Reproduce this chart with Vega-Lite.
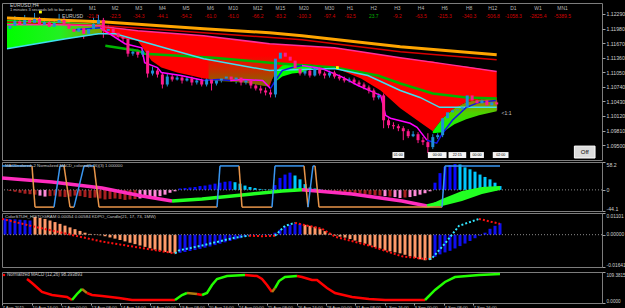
{
"$schema":"https://vega.github.io/schema/vega-lite/v6.json",
"background":"#000000",
"padding":{"left":1,"top":2,"right":0,"bottom":0},
"spacing":0,
"config":{
 "view":{"stroke":"#7d7d7d","strokeWidth":1},
 "axis":{"labelFont":"Liberation Sans","labelColor":"#d0d0d0","tickColor":"#a0a0a0","labelOverlap":false,"grid":false,"domain":false,"title":null},
 "text":{"font":"Liberation Sans"}
},
"resolve":{"scale":{"x":"independent","y":"independent"}},
"datasets":{
 "candles":[
{"x":3,"o":1.11973,"h":1.12142,"l":1.11889,"c":1.12037},
{"x":8,"o":1.12037,"h":1.12248,"l":1.11994,"c":1.12142},
{"x":13,"o":1.12142,"h":1.12185,"l":1.11994,"c":1.12058},
{"x":18,"o":1.12058,"h":1.12269,"l":1.12015,"c":1.12163},
{"x":23,"o":1.12163,"h":1.12206,"l":1.12037,"c":1.12100},
{"x":28,"o":1.12100,"h":1.12311,"l":1.12058,"c":1.12185},
{"x":33,"o":1.12185,"h":1.12227,"l":1.11973,"c":1.12058},
{"x":38,"o":1.12058,"h":1.12206,"l":1.12015,"c":1.12121},
{"x":43,"o":1.12121,"h":1.12163,"l":1.11952,"c":1.12015},
{"x":48,"o":1.12015,"h":1.12185,"l":1.11973,"c":1.12100},
{"x":53,"o":1.12100,"h":1.12290,"l":1.12058,"c":1.12163},
{"x":58,"o":1.12163,"h":1.12206,"l":1.12015,"c":1.12079},
{"x":63,"o":1.12079,"h":1.12121,"l":1.11867,"c":1.11973},
{"x":68,"o":1.11973,"h":1.12037,"l":1.11825,"c":1.11910},
{"x":73,"o":1.11910,"h":1.12058,"l":1.11867,"c":1.11994},
{"x":78,"o":1.11994,"h":1.12037,"l":1.11762,"c":1.11867},
{"x":83,"o":1.11867,"h":1.12058,"l":1.11825,"c":1.11973},
{"x":88,"o":1.11973,"h":1.12206,"l":1.11931,"c":1.12079},
{"x":93,"o":1.12079,"h":1.12269,"l":1.12037,"c":1.12163},
{"x":98,"o":1.12163,"h":1.12206,"l":1.11783,"c":1.11931},
{"x":103,"o":1.11931,"h":1.12058,"l":1.11889,"c":1.11973},
{"x":108,"o":1.11973,"h":1.12015,"l":1.11846,"c":1.11889},
{"x":113,"o":1.11889,"h":1.11931,"l":1.11762,"c":1.11804},
{"x":118,"o":1.11804,"h":1.11846,"l":1.11698,"c":1.11762},
{"x":123,"o":1.11762,"h":1.11804,"l":1.11381,"c":1.11445},
{"x":128,"o":1.11445,"h":1.11550,"l":1.11402,"c":1.11487},
{"x":133,"o":1.11487,"h":1.11529,"l":1.11360,"c":1.11423},
{"x":138,"o":1.11423,"h":1.11571,"l":1.11381,"c":1.11508},
{"x":143,"o":1.11508,"h":1.11550,"l":1.10937,"c":1.11022},
{"x":148,"o":1.11022,"h":1.11170,"l":1.10980,"c":1.11085},
{"x":153,"o":1.11085,"h":1.11128,"l":1.10937,"c":1.11001},
{"x":158,"o":1.11001,"h":1.11043,"l":1.10705,"c":1.10789},
{"x":163,"o":1.10789,"h":1.11022,"l":1.10747,"c":1.10958},
{"x":168,"o":1.10958,"h":1.11001,"l":1.10853,"c":1.10895},
{"x":173,"o":1.10895,"h":1.10980,"l":1.10874,"c":1.10937},
{"x":178,"o":1.10937,"h":1.10980,"l":1.10810,"c":1.10874},
{"x":183,"o":1.10874,"h":1.10958,"l":1.10853,"c":1.10916},
{"x":188,"o":1.10916,"h":1.10958,"l":1.10768,"c":1.10832},
{"x":193,"o":1.10832,"h":1.10916,"l":1.10789,"c":1.10874},
{"x":198,"o":1.10874,"h":1.10916,"l":1.10747,"c":1.10789},
{"x":203,"o":1.10789,"h":1.11043,"l":1.10747,"c":1.10895},
{"x":208,"o":1.10895,"h":1.10937,"l":1.10662,"c":1.10810},
{"x":213,"o":1.10810,"h":1.10916,"l":1.10768,"c":1.10874},
{"x":218,"o":1.10874,"h":1.10958,"l":1.10832,"c":1.10916},
{"x":223,"o":1.10916,"h":1.11022,"l":1.10874,"c":1.10958},
{"x":228,"o":1.10958,"h":1.11001,"l":1.10853,"c":1.10895},
{"x":233,"o":1.10895,"h":1.11043,"l":1.10810,"c":1.10937},
{"x":238,"o":1.10937,"h":1.10980,"l":1.10768,"c":1.10832},
{"x":243,"o":1.10832,"h":1.10958,"l":1.10789,"c":1.10874},
{"x":248,"o":1.10874,"h":1.10916,"l":1.10705,"c":1.10768},
{"x":253,"o":1.10768,"h":1.10832,"l":1.10662,"c":1.10705},
{"x":258,"o":1.10705,"h":1.10768,"l":1.10599,"c":1.10662},
{"x":263,"o":1.10662,"h":1.10726,"l":1.10557,"c":1.10620},
{"x":268,"o":1.10620,"h":1.10684,"l":1.10514,"c":1.10578},
{"x":273,"o":1.10578,"h":1.11402,"l":1.10514,"c":1.11339},
{"x":278,"o":1.11339,"h":1.11614,"l":1.11297,"c":1.11466},
{"x":283,"o":1.11466,"h":1.11508,"l":1.11254,"c":1.11381},
{"x":288,"o":1.11381,"h":1.11550,"l":1.11212,"c":1.11297},
{"x":293,"o":1.11297,"h":1.11339,"l":1.11085,"c":1.11128},
{"x":298,"o":1.11128,"h":1.11170,"l":1.10980,"c":1.11022},
{"x":303,"o":1.11022,"h":1.11128,"l":1.10980,"c":1.11085},
{"x":308,"o":1.11085,"h":1.11128,"l":1.10937,"c":1.10980},
{"x":313,"o":1.10980,"h":1.11212,"l":1.10958,"c":1.11128},
{"x":318,"o":1.11128,"h":1.11170,"l":1.10980,"c":1.11022},
{"x":323,"o":1.11022,"h":1.11064,"l":1.10916,"c":1.10980},
{"x":328,"o":1.10980,"h":1.11085,"l":1.10937,"c":1.11043},
{"x":333,"o":1.11043,"h":1.11085,"l":1.10916,"c":1.10958},
{"x":338,"o":1.10958,"h":1.11001,"l":1.10874,"c":1.10916},
{"x":343,"o":1.10916,"h":1.10958,"l":1.10832,"c":1.10874},
{"x":348,"o":1.10874,"h":1.10937,"l":1.10832,"c":1.10895},
{"x":353,"o":1.10895,"h":1.10937,"l":1.10789,"c":1.10832},
{"x":358,"o":1.10832,"h":1.10874,"l":1.10747,"c":1.10789},
{"x":363,"o":1.10789,"h":1.10832,"l":1.10684,"c":1.10726},
{"x":368,"o":1.10726,"h":1.10768,"l":1.10599,"c":1.10662},
{"x":373,"o":1.10662,"h":1.10705,"l":1.10451,"c":1.10514},
{"x":378,"o":1.10514,"h":1.10599,"l":1.10472,"c":1.10557},
{"x":383,"o":1.10557,"h":1.10599,"l":1.09859,"c":1.10028},
{"x":388,"o":1.10028,"h":1.10071,"l":1.09859,"c":1.09923},
{"x":393,"o":1.09923,"h":1.09986,"l":1.09838,"c":1.09901},
{"x":398,"o":1.09901,"h":1.09944,"l":1.09796,"c":1.09859},
{"x":403,"o":1.09859,"h":1.09901,"l":1.09605,"c":1.09796},
{"x":408,"o":1.09796,"h":1.09838,"l":1.09648,"c":1.09690},
{"x":413,"o":1.09690,"h":1.09796,"l":1.09669,"c":1.09732},
{"x":418,"o":1.09732,"h":1.09775,"l":1.09542,"c":1.09605},
{"x":423,"o":1.09605,"h":1.09669,"l":1.09500,"c":1.09563},
{"x":428,"o":1.09563,"h":1.09753,"l":1.09331,"c":1.09457},
{"x":433,"o":1.09457,"h":1.09732,"l":1.09415,"c":1.09669},
{"x":438,"o":1.09669,"h":1.09753,"l":1.09627,"c":1.09711},
{"x":443,"o":1.09711,"h":1.10113,"l":1.09669,"c":1.10071},
{"x":448,"o":1.10071,"h":1.10240,"l":1.10028,"c":1.10197},
{"x":453,"o":1.10197,"h":1.10303,"l":1.10155,"c":1.10240},
{"x":458,"o":1.10240,"h":1.10324,"l":1.10197,"c":1.10261},
{"x":463,"o":1.10261,"h":1.10366,"l":1.10219,"c":1.10303},
{"x":468,"o":1.10303,"h":1.10874,"l":1.10261,"c":1.10557},
{"x":473,"o":1.10557,"h":1.10599,"l":1.10388,"c":1.10451},
{"x":478,"o":1.10451,"h":1.10493,"l":1.10324,"c":1.10388},
{"x":483,"o":1.10388,"h":1.10514,"l":1.10345,"c":1.10451},
{"x":488,"o":1.10451,"h":1.10493,"l":1.10282,"c":1.10345},
{"x":493,"o":1.10345,"h":1.10578,"l":1.10303,"c":1.10409},
{"x":498,"o":1.10409,"h":1.10451,"l":1.10240,"c":1.10366}
 ],
 "greenL":[{"x":0,"y":1.12163,"y2":1.11550},{"x":30,"y":1.12142,"y2":1.11656},{"x":60,"y":1.12121,"y2":1.11762},{"x":97,"y":1.12079,"y2":1.11867}],
 "red":[
{"x":95,"y":1.12037,"y2":1.12015},{"x":100,"y":1.12015,"y2":1.11867},{"x":120,"y":1.11973,"y2":1.11762},{"x":133,"y":1.11931,"y2":1.11719},{"x":140,"y":1.11920,"y2":1.11508},{"x":147,"y":1.11910,"y2":1.11297},{"x":157,"y":1.11889,"y2":1.11149},{"x":173,"y":1.11867,"y2":1.11043},{"x":187,"y":1.11846,"y2":1.10980},{"x":200,"y":1.11825,"y2":1.10916},{"x":230,"y":1.11741,"y2":1.10874},{"x":250,"y":1.11698,"y2":1.10810},{"x":267,"y":1.11656,"y2":1.10747},{"x":272,"y":1.11645,"y2":1.11043},{"x":300,"y":1.11614,"y2":1.11212},{"x":310,"y":1.11593,"y2":1.11212},{"x":333,"y":1.11571,"y2":1.11149},{"x":360,"y":1.11487,"y2":1.10916},{"x":380,"y":1.11423,"y2":1.10662},{"x":400,"y":1.11360,"y2":1.10282},{"x":420,"y":1.11307,"y2":1.09986},{"x":433,"y":1.11276,"y2":1.09796},{"x":443,"y":1.11233,"y2":1.10071},{"x":455,"y":1.11201,"y2":1.10282},{"x":467,"y":1.11170,"y2":1.10409},{"x":480,"y":1.11128,"y2":1.10472},{"x":498,"y":1.11064,"y2":1.10493}
 ],
 "olive":[{"x":205,"y":1.11297,"y2":1.10874},{"x":240,"y":1.11360,"y2":1.10832},{"x":265,"y":1.11402,"y2":1.10747},{"x":272,"y":1.11381,"y2":1.10980}],
 "greenM":[{"x":272,"y":1.11043,"y2":1.10832},{"x":280,"y":1.11191,"y2":1.10958},{"x":290,"y":1.11233,"y2":1.11022},{"x":300,"y":1.11212,"y2":1.11043},{"x":310,"y":1.11212,"y2":1.11128}],
 "greenR":[{"x":433,"y":1.09796,"y2":1.09753},{"x":443,"y":1.10071,"y2":1.09775},{"x":455,"y":1.10282,"y2":1.09944},{"x":467,"y":1.10409,"y2":1.10049},{"x":480,"y":1.10472,"y2":1.10134},{"x":498,"y":1.10493,"y2":1.10219}],
 "orange":[{"x":0,"y":1.12206},{"x":100,"y":1.12121},{"x":200,"y":1.11973},{"x":267,"y":1.11889},{"x":300,"y":1.11825},{"x":400,"y":1.11593},{"x":498,"y":1.11423}],
 "dred":[{"x":0,"y":1.12121},{"x":100,"y":1.12037},{"x":200,"y":1.11889},{"x":300,"y":1.11741},{"x":400,"y":1.11487},{"x":498,"y":1.11318}],
 "upper":[{"x":0,"y":1.12058},{"x":50,"y":1.12058},{"x":95,"y":1.12037},{"x":100,"y":1.12015},{"x":133,"y":1.11931},{"x":200,"y":1.11825},{"x":267,"y":1.11656},{"x":333,"y":1.11571},{"x":400,"y":1.11360},{"x":450,"y":1.11212},{"x":498,"y":1.11064}],
 "gline":[{"x":100,"y":1.11614},{"x":133,"y":1.11508},{"x":140,"y":1.11445},{"x":210,"y":1.11360},{"x":267,"y":1.11254},{"x":333,"y":1.11149},{"x":377,"y":1.10980},{"x":400,"y":1.10810},{"x":433,"y":1.10599},{"x":467,"y":1.10514},{"x":498,"y":1.10493}],
 "cyan":[{"x":0,"y":1.11550},{"x":30,"y":1.11656},{"x":60,"y":1.11762},{"x":93,"y":1.11867},{"x":110,"y":1.11867},{"x":160,"y":1.11571},{"x":200,"y":1.11339},{"x":267,"y":1.11085},{"x":333,"y":1.11128},{"x":367,"y":1.10980},{"x":400,"y":1.10662},{"x":420,"y":1.10514},{"x":440,"y":1.10303},{"x":467,"y":1.10303},{"x":498,"y":1.10303}],
 "ma":[
{"x":70,"y":1.11952,"g":"m0","st":"up"},{"x":95,"y":1.11994,"g":"m0","st":"up"},
{"x":95,"y":1.11994,"g":"m1","st":"dn"},{"x":120,"y":1.11656,"g":"m1","st":"dn"},{"x":137,"y":1.11571,"g":"m1","st":"dn"},{"x":140,"y":1.11254,"g":"m1","st":"dn"},{"x":153,"y":1.11149,"g":"m1","st":"dn"},{"x":157,"y":1.11043,"g":"m1","st":"dn"},{"x":177,"y":1.10980,"g":"m1","st":"dn"},{"x":200,"y":1.10874,"g":"m1","st":"dn"},
{"x":200,"y":1.10874,"g":"m2","st":"up"},{"x":215,"y":1.10895,"g":"m2","st":"up"},{"x":227,"y":1.10874,"g":"m2","st":"up"},
{"x":227,"y":1.10874,"g":"m3","st":"dn"},{"x":240,"y":1.10895,"g":"m3","st":"dn"},{"x":260,"y":1.10874,"g":"m3","st":"dn"},{"x":268,"y":1.10705,"g":"m3","st":"dn"},
{"x":268,"y":1.10705,"g":"m4","st":"up"},{"x":273,"y":1.10874,"g":"m4","st":"up"},{"x":280,"y":1.11085,"g":"m4","st":"up"},{"x":290,"y":1.11149,"g":"m4","st":"up"},{"x":300,"y":1.11191,"g":"m4","st":"up"},
{"x":300,"y":1.11191,"g":"m5","st":"dn"},{"x":320,"y":1.11128,"g":"m5","st":"dn"},{"x":340,"y":1.10958,"g":"m5","st":"dn"},{"x":357,"y":1.10768,"g":"m5","st":"dn"},{"x":380,"y":1.10557,"g":"m5","st":"dn"},{"x":385,"y":1.10134,"g":"m5","st":"dn"},{"x":390,"y":1.10071,"g":"m5","st":"dn"},{"x":410,"y":1.09965,"g":"m5","st":"dn"},{"x":417,"y":1.09880,"g":"m5","st":"dn"},{"x":427,"y":1.09605,"g":"m5","st":"dn"},
{"x":427,"y":1.09605,"g":"m6","st":"up"},{"x":437,"y":1.09542,"g":"m6","st":"up"},{"x":443,"y":1.09753,"g":"m6","st":"up"},{"x":453,"y":1.10028,"g":"m6","st":"up"},{"x":467,"y":1.10303,"g":"m6","st":"up"},{"x":480,"y":1.10409,"g":"m6","st":"up"},{"x":497,"y":1.10451,"g":"m6","st":"up"}
 ],
 "dots":[{"x":34,"y":1.12332},{"x":336,"y":1.11149}],
 "tf":[{"x":87,"t":"M1","v":"-21.8"},{"x":110,"t":"M2","v":"-22.5"},{"x":134,"t":"M3","v":"-34.3"},{"x":158,"t":"M4","v":"-44.1"},{"x":182,"t":"M5","v":"-54.2"},{"x":207,"t":"M6","v":"-61.0"},{"x":230,"t":"M10","v":"-61.0"},{"x":255,"t":"M12","v":"-66.2"},{"x":278,"t":"M15","v":"-83.2"},{"x":302,"t":"M20","v":"-100.3"},{"x":328,"t":"M30","v":"-97.4"},{"x":349,"t":"H1","v":"-92.5"},{"x":373,"t":"H2","v":"23.7"},{"x":397,"t":"H3","v":"-9.2"},{"x":421,"t":"H4","v":"-63.5"},{"x":445,"t":"H6","v":"-215.3"},{"x":470,"t":"H8","v":"-340.3"},{"x":494,"t":"H12","v":"-506.8"},{"x":515,"t":"D1","v":"-1058.3"},{"x":540,"t":"W1","v":"-2825.4"},{"x":565,"t":"MN1","v":"-5389.5"}],
 "head":[{"x":3,"y":1.12470,"t":"EURUSD,H4"},{"x":56,"y":1.12248,"t":"EURUSD"},{"x":503,"y":1.10176,"t":"<1:1"}],
 "boxes":[{"x":392,"x2":404,"xm":398,"t":"01:00"},{"x":428,"x2":447,"xm":437.5,"t":"00:00"},{"x":449,"x2":467,"xm":458,"t":"22:15"},{"x":471,"x2":485,"xm":478,"t":"00:00"},{"x":494,"x2":510,"xm":502,"t":"02:00"}],
 "off":[{"x":577,"x2":598,"xm":587.5,"t":"Off"}],
 "wave":[
{"x":0,"x2":30,"y":50,"y2":50,"st":"up"},{"x":30,"x2":33,"y":50,"y2":-36,"st":"dn"},{"x":33,"x2":52,"y":-36,"y2":-36,"st":"dn"},{"x":52,"x2":58,"y":-36,"y2":50,"st":"up"},{"x":58,"x2":62,"y":50,"y2":50,"st":"up"},{"x":62,"x2":68,"y":50,"y2":-36,"st":"dn"},{"x":68,"x2":72,"y":-36,"y2":-36,"st":"dn"},{"x":72,"x2":82,"y":-36,"y2":50,"st":"up"},{"x":82,"x2":92,"y":50,"y2":50,"st":"up"},{"x":92,"x2":97,"y":50,"y2":-36,"st":"dn"},{"x":97,"x2":215,"y":-36,"y2":-36,"st":"dn"},{"x":215,"x2":218,"y":-36,"y2":50,"st":"up"},{"x":218,"x2":237,"y":50,"y2":50,"st":"up"},{"x":237,"x2":240,"y":50,"y2":-36,"st":"dn"},{"x":240,"x2":270,"y":-36,"y2":-36,"st":"dn"},{"x":270,"x2":273,"y":-36,"y2":50,"st":"up"},{"x":273,"x2":302,"y":50,"y2":50,"st":"up"},{"x":302,"x2":306,"y":50,"y2":-36,"st":"dn"},{"x":306,"x2":311,"y":-36,"y2":50,"st":"up"},{"x":311,"x2":313,"y":50,"y2":50,"st":"up"},{"x":313,"x2":317,"y":50,"y2":-36,"st":"dn"},{"x":317,"x2":440,"y":-36,"y2":-36,"st":"dn"},{"x":440,"x2":443,"y":-36,"y2":50,"st":"up"},{"x":443,"x2":498,"y":50,"y2":50,"st":"up"}
 ],
 "hist2":[
{"x":8,"v":-2,"st":"ng"},{"x":13,"v":-4,"st":"ng"},{"x":18,"v":-6,"st":"ng"},{"x":23,"v":-8,"st":"ng"},{"x":28,"v":-9,"st":"ng"},{"x":33,"v":-10,"st":"ng"},{"x":38,"v":-12,"st":"ns"},{"x":43,"v":-14,"st":"ns"},{"x":48,"v":-13,"st":"ng"},{"x":53,"v":-12,"st":"ng"},{"x":58,"v":-14,"st":"ng"},{"x":63,"v":-15,"st":"ng"},{"x":68,"v":-14,"st":"ng"},{"x":73,"v":-12,"st":"ng"},{"x":78,"v":-13,"st":"ng"},{"x":83,"v":-15,"st":"ng"},{"x":88,"v":-17,"st":"ng"},{"x":93,"v":-16,"st":"ng"},{"x":98,"v":-18,"st":"ng"},{"x":103,"v":-20,"st":"ng"},{"x":108,"v":-19,"st":"ng"},{"x":113,"v":-18,"st":"ng"},{"x":118,"v":-19,"st":"ng"},{"x":123,"v":-21,"st":"ng"},{"x":128,"v":-20,"st":"ng"},{"x":133,"v":-19,"st":"ng"},{"x":138,"v":-18,"st":"ns"},{"x":143,"v":-17,"st":"ns"},{"x":148,"v":-16,"st":"ns"},{"x":153,"v":-15,"st":"ns"},{"x":158,"v":-13,"st":"ns"},{"x":163,"v":-10,"st":"ns"},{"x":168,"v":-6,"st":"ns"},{"x":173,"v":-3,"st":"ns"},
{"x":178,"v":3,"st":"up"},{"x":183,"v":4,"st":"up"},{"x":188,"v":5,"st":"up"},{"x":193,"v":6,"st":"up"},{"x":198,"v":8,"st":"up"},{"x":203,"v":9,"st":"up"},{"x":208,"v":11,"st":"up"},{"x":213,"v":13,"st":"up"},{"x":218,"v":15,"st":"up"},{"x":223,"v":17,"st":"up"},{"x":228,"v":18,"st":"up"},{"x":233,"v":16,"st":"dn"},{"x":238,"v":13,"st":"dn"},{"x":243,"v":9,"st":"dn"},{"x":248,"v":6,"st":"dn"},{"x":253,"v":4,"st":"dn"},{"x":258,"v":2,"st":"dn"},{"x":263,"v":1,"st":"dn"},{"x":268,"v":1,"st":"dn"},{"x":273,"v":10,"st":"up"},{"x":278,"v":25,"st":"up"},{"x":283,"v":32,"st":"up"},{"x":288,"v":36,"st":"up"},{"x":293,"v":30,"st":"dn"},{"x":298,"v":22,"st":"dn"},{"x":303,"v":12,"st":"dn"},{"x":308,"v":5,"st":"dn"},{"x":313,"v":3,"st":"dn"},{"x":318,"v":1,"st":"dn"},
{"x":323,"v":-1,"st":"ng"},{"x":328,"v":-2,"st":"ng"},{"x":333,"v":-3,"st":"ng"},{"x":338,"v":-4,"st":"ng"},{"x":343,"v":-5,"st":"ng"},{"x":348,"v":-6,"st":"ng"},{"x":353,"v":-7,"st":"ng"},{"x":358,"v":-8,"st":"ng"},{"x":363,"v":-9,"st":"ng"},{"x":368,"v":-10,"st":"ng"},{"x":373,"v":-11,"st":"ng"},{"x":378,"v":-12,"st":"ng"},{"x":383,"v":-13,"st":"ns"},{"x":388,"v":-14,"st":"ng"},{"x":393,"v":-15,"st":"ns"},{"x":398,"v":-17,"st":"ns"},{"x":403,"v":-16,"st":"ng"},{"x":408,"v":-15,"st":"ns"},{"x":413,"v":-13,"st":"ns"},{"x":418,"v":-10,"st":"ns"},{"x":423,"v":-7,"st":"ns"},{"x":428,"v":-3,"st":"ns"},
{"x":433,"v":15,"st":"up"},{"x":438,"v":35,"st":"up"},{"x":443,"v":48,"st":"up"},{"x":448,"v":52,"st":"up"},{"x":453,"v":54,"st":"up"},{"x":458,"v":53,"st":"dn"},{"x":463,"v":47,"st":"dn"},{"x":468,"v":43,"st":"dn"},{"x":473,"v":38,"st":"dn"},{"x":478,"v":32,"st":"dn"},{"x":483,"v":27,"st":"dn"},{"x":488,"v":22,"st":"dn"},{"x":493,"v":15,"st":"dn"},{"x":498,"v":8,"st":"dn"}
 ],
 "sig2":[
{"x":0,"y":24.8,"g":"a","st":"dn"},{"x":50,"y":16.5,"g":"a","st":"dn"},{"x":100,"y":3.9,"g":"a","st":"dn"},{"x":140,"y":-12.8,"g":"a","st":"dn"},{"x":170,"y":-23.2,"g":"a","st":"dn"},
{"x":170,"y":-23.2,"g":"b","st":"up"},{"x":200,"y":-19.0,"g":"b","st":"up"},{"x":250,"y":-8.6,"g":"b","st":"up"},{"x":280,"y":-2.3,"g":"b","st":"up"},{"x":300,"y":0.5,"g":"b","st":"up"},
{"x":300,"y":0.5,"g":"c","st":"dn"},{"x":350,"y":-8.6,"g":"c","st":"dn"},{"x":400,"y":-23.2,"g":"c","st":"dn"},{"x":425,"y":-33.7,"g":"c","st":"dn"},
{"x":425,"y":-33.7,"g":"d","st":"up"},{"x":440,"y":-26.0,"g":"d","st":"up"},{"x":460,"y":-12.0,"g":"d","st":"up"},{"x":480,"y":-1.0,"g":"d","st":"up"},{"x":498,"y":4.0,"g":"d","st":"up"}
 ],
 "band2":[{"x":425,"y":-33.7,"y2":-35.8},{"x":440,"y":-19.0,"y2":-33.7},{"x":460,"y":-2.3,"y2":-23.2},{"x":480,"y":6.0,"y2":-8.6},{"x":498,"y":8.1,"y2":-0.2}],
 "hist3":[
{"x":3,"v":0.0082,"st":"up"},{"x":8,"v":0.0080,"st":"up"},{"x":13,"v":0.0078,"st":"up"},{"x":18,"v":0.0076,"st":"up"},{"x":23,"v":0.0074,"st":"up"},{"x":28,"v":0.0072,"st":"up"},
{"x":33,"v":0.0090,"st":"dn"},{"x":38,"v":0.0085,"st":"dn"},{"x":43,"v":0.0080,"st":"dn"},{"x":48,"v":0.0072,"st":"dn"},{"x":53,"v":0.0064,"st":"dn"},{"x":58,"v":0.0055,"st":"dn"},{"x":63,"v":0.0046,"st":"dn"},{"x":68,"v":0.0037,"st":"dn"},{"x":73,"v":0.0028,"st":"dn"},{"x":78,"v":0.0019,"st":"dn"},{"x":83,"v":0.0010,"st":"dn"},{"x":88,"v":0.0004,"st":"dn"},{"x":93,"v":0.0002,"st":"dn"},{"x":98,"v":-0.0003,"st":"dn"},{"x":103,"v":-0.0008,"st":"dn"},{"x":108,"v":-0.0014,"st":"dn"},{"x":113,"v":-0.0020,"st":"dn"},{"x":118,"v":-0.0027,"st":"dn"},{"x":123,"v":-0.0034,"st":"dn"},{"x":128,"v":-0.0041,"st":"dn"},{"x":133,"v":-0.0048,"st":"dn"},{"x":138,"v":-0.0055,"st":"dn"},{"x":143,"v":-0.0062,"st":"dn"},{"x":148,"v":-0.0069,"st":"dn"},{"x":153,"v":-0.0076,"st":"dn"},{"x":158,"v":-0.0082,"st":"dn"},{"x":163,"v":-0.0088,"st":"dn"},{"x":168,"v":-0.0092,"st":"dn"},{"x":173,"v":-0.0095,"st":"dn"},
{"x":178,"v":-0.0092,"st":"up"},{"x":183,"v":-0.0088,"st":"up"},{"x":188,"v":-0.0083,"st":"up"},{"x":193,"v":-0.0078,"st":"up"},{"x":198,"v":-0.0072,"st":"up"},{"x":203,"v":-0.0066,"st":"up"},{"x":208,"v":-0.0060,"st":"up"},{"x":213,"v":-0.0053,"st":"up"},{"x":218,"v":-0.0046,"st":"up"},{"x":223,"v":-0.0039,"st":"up"},{"x":228,"v":-0.0032,"st":"up"},{"x":233,"v":-0.0025,"st":"up"},{"x":238,"v":-0.0018,"st":"up"},{"x":243,"v":-0.0011,"st":"up"},{"x":248,"v":-0.0005,"st":"up"},{"x":253,"v":-0.0002,"st":"up"},{"x":258,"v":0.0001,"st":"up"},{"x":263,"v":0.0002,"st":"up"},{"x":268,"v":0.0003,"st":"up"},{"x":273,"v":0.0010,"st":"up"},{"x":278,"v":0.0025,"st":"up"},{"x":283,"v":0.0040,"st":"up"},{"x":288,"v":0.0050,"st":"up"},{"x":293,"v":0.0055,"st":"up"},{"x":298,"v":0.0056,"st":"up"},
{"x":303,"v":0.0050,"st":"dn"},{"x":308,"v":0.0045,"st":"dn"},{"x":313,"v":0.0040,"st":"dn"},{"x":318,"v":0.0030,"st":"dn"},{"x":323,"v":0.0018,"st":"dn"},{"x":328,"v":0.0006,"st":"dn"},{"x":333,"v":-0.0005,"st":"dn"},{"x":338,"v":-0.0010,"st":"dn"},{"x":343,"v":-0.0015,"st":"dn"},{"x":348,"v":-0.0022,"st":"dn"},{"x":353,"v":-0.0030,"st":"dn"},{"x":358,"v":-0.0038,"st":"dn"},{"x":363,"v":-0.0046,"st":"dn"},{"x":368,"v":-0.0055,"st":"dn"},{"x":373,"v":-0.0063,"st":"dn"},{"x":378,"v":-0.0071,"st":"dn"},{"x":383,"v":-0.0080,"st":"dn"},{"x":388,"v":-0.0085,"st":"dn"},{"x":393,"v":-0.0090,"st":"dn"},{"x":398,"v":-0.0095,"st":"dn"},{"x":403,"v":-0.0102,"st":"dn"},{"x":408,"v":-0.0110,"st":"dn"},{"x":413,"v":-0.0118,"st":"dn"},{"x":418,"v":-0.0125,"st":"dn"},{"x":423,"v":-0.0130,"st":"dn"},{"x":428,"v":-0.0128,"st":"dn"},
{"x":433,"v":-0.0112,"st":"up"},{"x":438,"v":-0.0100,"st":"up"},{"x":443,"v":-0.0090,"st":"up"},{"x":448,"v":-0.0082,"st":"up"},{"x":453,"v":-0.0070,"st":"up"},{"x":458,"v":-0.0058,"st":"up"},{"x":463,"v":-0.0045,"st":"up"},{"x":468,"v":-0.0032,"st":"up"},{"x":473,"v":-0.0018,"st":"up"},{"x":478,"v":-0.0005,"st":"up"},{"x":483,"v":0.0010,"st":"up"},{"x":488,"v":0.0030,"st":"up"},{"x":493,"v":0.0045,"st":"up"},{"x":498,"v":0.0058,"st":"up"}
 ],
 "sig3":[
{"x":0,"y":0.0080,"g":"a","st":"dn"},{"x":33,"y":0.0040,"g":"a","st":"dn"},{"x":100,"y":-0.0035,"g":"a","st":"dn"},{"x":173,"y":-0.0095,"g":"a","st":"dn"},
{"x":173,"y":-0.0095,"g":"b","st":"up"},{"x":177,"y":-0.0080,"g":"b","st":"up"},{"x":200,"y":-0.0055,"g":"b","st":"up"},{"x":233,"y":-0.0015,"g":"b","st":"up"},{"x":247,"y":-0.0005,"g":"b","st":"up"},
{"x":247,"y":-0.0005,"g":"c","st":"dn"},{"x":260,"y":-0.0008,"g":"c","st":"dn"},{"x":273,"y":-0.0005,"g":"c","st":"dn"},
{"x":273,"y":-0.0005,"g":"d","st":"up"},{"x":283,"y":0.0045,"g":"d","st":"up"},{"x":293,"y":0.0060,"g":"d","st":"up"},
{"x":293,"y":0.0060,"g":"e","st":"dn"},{"x":297,"y":0.0055,"g":"e","st":"dn"},{"x":320,"y":0.0030,"g":"e","st":"dn"},{"x":333,"y":-0.0010,"g":"e","st":"dn"},{"x":367,"y":-0.0055,"g":"e","st":"dn"},{"x":400,"y":-0.0110,"g":"e","st":"dn"},{"x":427,"y":-0.0125,"g":"e","st":"dn"},
{"x":427,"y":-0.0125,"g":"f","st":"up"},{"x":430,"y":-0.0120,"g":"f","st":"up"},{"x":443,"y":-0.0045,"g":"f","st":"up"},{"x":457,"y":0.0045,"g":"f","st":"up"},{"x":477,"y":0.0080,"g":"f","st":"up"},
{"x":477,"y":0.0080,"g":"g","st":"dn"},{"x":498,"y":0.0055,"g":"g","st":"dn"}
 ],
 "nm":[
{"x":25,"y":84.7,"g":"a","st":"dn"},{"x":30,"y":70.6,"g":"a","st":"dn"},{"x":40,"y":38.8,"g":"a","st":"dn"},{"x":50,"y":28.2,"g":"a","st":"dn"},{"x":65,"y":21.2,"g":"a","st":"dn"},{"x":70,"y":10.6,"g":"a","st":"dn"},
{"x":70,"y":10.6,"g":"b","st":"up"},{"x":75,"y":31.8,"g":"b","st":"up"},{"x":80,"y":49.4,"g":"b","st":"up"},
{"x":80,"y":49.4,"g":"c","st":"mid"},{"x":85,"y":35.3,"g":"c","st":"mid"},
{"x":85,"y":35.3,"g":"d","st":"dn"},{"x":90,"y":28.2,"g":"d","st":"dn"},{"x":100,"y":24.7,"g":"d","st":"dn"},{"x":117,"y":17.6,"g":"d","st":"dn"},{"x":130,"y":10.6,"g":"d","st":"dn"},{"x":173,"y":10.6,"g":"d","st":"dn"},
{"x":173,"y":10.6,"g":"e","st":"up"},{"x":180,"y":28.2,"g":"e","st":"up"},{"x":185,"y":35.3,"g":"e","st":"up"},
{"x":185,"y":35.3,"g":"f","st":"mid"},{"x":195,"y":31.8,"g":"f","st":"mid"},
{"x":195,"y":31.8,"g":"g","st":"dn"},{"x":200,"y":28.2,"g":"g","st":"dn"},
{"x":200,"y":28.2,"g":"h","st":"up"},{"x":205,"y":35.3,"g":"h","st":"up"},{"x":210,"y":63.5,"g":"h","st":"up"},{"x":215,"y":84.7,"g":"h","st":"up"},{"x":225,"y":95.3,"g":"h","st":"up"},{"x":243,"y":98.8,"g":"h","st":"up"},
{"x":243,"y":98.8,"g":"i","st":"dn"},{"x":255,"y":95.3,"g":"i","st":"dn"},{"x":260,"y":84.7,"g":"i","st":"dn"},{"x":265,"y":63.5,"g":"i","st":"dn"},{"x":270,"y":38.8,"g":"i","st":"dn"},
{"x":270,"y":38.8,"g":"j","st":"mid"},{"x":273,"y":52.9,"g":"j","st":"mid"},
{"x":273,"y":52.9,"g":"k","st":"up"},{"x":277,"y":77.6,"g":"k","st":"up"},{"x":283,"y":91.7,"g":"k","st":"up"},{"x":295,"y":95.3,"g":"k","st":"up"},
{"x":295,"y":95.3,"g":"l","st":"dn"},{"x":300,"y":91.7,"g":"l","st":"dn"},{"x":310,"y":81.1,"g":"l","st":"dn"},{"x":315,"y":81.1,"g":"l","st":"dn"},{"x":325,"y":52.9,"g":"l","st":"dn"},{"x":333,"y":35.3,"g":"l","st":"dn"},{"x":350,"y":21.2,"g":"l","st":"dn"},{"x":367,"y":14.1,"g":"l","st":"dn"},{"x":383,"y":10.6,"g":"l","st":"dn"},{"x":423,"y":10.6,"g":"l","st":"dn"},
{"x":423,"y":10.6,"g":"m","st":"up"},{"x":433,"y":45.9,"g":"m","st":"up"},{"x":443,"y":74.1,"g":"m","st":"up"},{"x":453,"y":91.7,"g":"m","st":"up"},{"x":477,"y":98.8,"g":"m","st":"up"},{"x":498,"y":102.3,"g":"m","st":"up"}
 ]
},
"vconcat":[
 {"width":600,"height":157,
  "resolve":{"axis":{"x":"independent","y":"independent"}},
  "layer":[
   {"data":{"name":"candles"},"mark":{"type":"rule","strokeWidth":1},
    "encoding":{"x":{"field":"x","type":"quantitative","scale":{"domain":[0,600],"nice":false,"zero":false},"axis":null},"y":{"field":"l","type":"quantitative","scale":{"domain":[1.09183,1.12523],"nice":false,"zero":false},"axis":{"orient":"right","values":[1.095,1.0981,1.1012,1.1043,1.1074,1.1105,1.1136,1.1167,1.1198,1.1229],"format":".5f","title":null,"labelFontSize":5.2,"tickSize":3,"labelPadding":1,"labelOverlap":false,"labelFlush":false}},"y2":{"field":"h"},"color":{"condition":{"test":"datum.c >= datum.o","value":"#1e90d8"},"value":"#ff1a8c"}}},
   {"data":{"name":"greenL"},"mark":{"type":"area","clip":true,"color":{"gradient":"linear","x1":0,"y1":0,"x2":1,"y2":0,"stops":[{"offset":0,"color":"#00ff00"},{"offset":0.55,"color":"#22f022"},{"offset":1,"color":"#7e9e00"}]}},
    "encoding":{"x":{"field":"x","type":"quantitative","scale":{"domain":[0,600],"nice":false,"zero":false},"axis":null},"y":{"field":"y","type":"quantitative","scale":{"domain":[1.09183,1.12523],"nice":false,"zero":false},"axis":null},"y2":{"field":"y2"}}},
   {"data":{"name":"red"},"mark":{"type":"area","color":"#ff0000"},
    "encoding":{"x":{"field":"x","type":"quantitative","scale":{"domain":[0,600],"nice":false,"zero":false},"axis":null},"y":{"field":"y","type":"quantitative","scale":{"domain":[1.09183,1.12523],"nice":false,"zero":false},"axis":null},"y2":{"field":"y2"}}},
   {"data":{"name":"olive"},"mark":{"type":"area","opacity":0.8,"color":{"gradient":"linear","x1":0,"y1":0,"x2":0,"y2":1,"stops":[{"offset":0,"color":"#ff0000"},{"offset":0.5,"color":"#b04000"},{"offset":1,"color":"#5a8a00"}]}},
    "encoding":{"x":{"field":"x","type":"quantitative","scale":{"domain":[0,600],"nice":false,"zero":false},"axis":null},"y":{"field":"y","type":"quantitative","scale":{"domain":[1.09183,1.12523],"nice":false,"zero":false},"axis":null},"y2":{"field":"y2"}}},
   {"data":{"name":"greenM"},"mark":{"type":"area","color":"#00ff00"},
    "encoding":{"x":{"field":"x","type":"quantitative","scale":{"domain":[0,600],"nice":false,"zero":false},"axis":null},"y":{"field":"y","type":"quantitative","scale":{"domain":[1.09183,1.12523],"nice":false,"zero":false},"axis":null},"y2":{"field":"y2"}}},
   {"data":{"name":"greenR"},"mark":{"type":"area","color":{"gradient":"linear","x1":0,"y1":0,"x2":0,"y2":1,"stops":[{"offset":0,"color":"#b06000"},{"offset":0.4,"color":"#50d000"},{"offset":1,"color":"#00ff00"}]}},
    "encoding":{"x":{"field":"x","type":"quantitative","scale":{"domain":[0,600],"nice":false,"zero":false},"axis":null},"y":{"field":"y","type":"quantitative","scale":{"domain":[1.09183,1.12523],"nice":false,"zero":false},"axis":null},"y2":{"field":"y2"}}},
   {"data":{"name":"orange"},"mark":{"type":"line","color":"#ffa500","strokeWidth":3,"clip":true},
    "encoding":{"x":{"field":"x","type":"quantitative","scale":{"domain":[0,600],"nice":false,"zero":false},"axis":null},"y":{"field":"y","type":"quantitative","scale":{"domain":[1.09183,1.12523],"nice":false,"zero":false},"axis":null}}},
   {"data":{"name":"dred"},"mark":{"type":"line","color":"#d80000","strokeWidth":1.5,"clip":true},
    "encoding":{"x":{"field":"x","type":"quantitative","scale":{"domain":[0,600],"nice":false,"zero":false},"axis":null},"y":{"field":"y","type":"quantitative","scale":{"domain":[1.09183,1.12523],"nice":false,"zero":false},"axis":null}}},
   {"data":{"name":"upper"},"mark":{"type":"line","color":"#ff2e9a","strokeWidth":1.5,"clip":true},
    "encoding":{"x":{"field":"x","type":"quantitative","scale":{"domain":[0,600],"nice":false,"zero":false},"axis":null},"y":{"field":"y","type":"quantitative","scale":{"domain":[1.09183,1.12523],"nice":false,"zero":false},"axis":null}}},
   {"data":{"name":"gline"},"mark":{"type":"line","color":"#00b400","strokeWidth":2.5},
    "encoding":{"x":{"field":"x","type":"quantitative","scale":{"domain":[0,600],"nice":false,"zero":false},"axis":null},"y":{"field":"y","type":"quantitative","scale":{"domain":[1.09183,1.12523],"nice":false,"zero":false},"axis":null}}},
   {"data":{"name":"cyan"},"mark":{"type":"line","color":"#3ee0f0","strokeWidth":1.5,"clip":true},
    "encoding":{"x":{"field":"x","type":"quantitative","scale":{"domain":[0,600],"nice":false,"zero":false},"axis":null},"y":{"field":"y","type":"quantitative","scale":{"domain":[1.09183,1.12523],"nice":false,"zero":false},"axis":null}}},
   {"data":{"name":"ma"},"mark":{"type":"line","strokeWidth":1.5},
    "encoding":{"x":{"field":"x","type":"quantitative","scale":{"domain":[0,600],"nice":false,"zero":false},"axis":null},"y":{"field":"y","type":"quantitative","scale":{"domain":[1.09183,1.12523],"nice":false,"zero":false},"axis":null},"detail":{"field":"g"},"color":{"condition":{"test":"datum.st == 'up'","value":"#1414e6"},"value":"#ff00ff"}}},
   {"data":{"name":"candles"},"mark":{"type":"bar","width":3},
    "encoding":{"x":{"field":"x","type":"quantitative","scale":{"domain":[0,600],"nice":false,"zero":false},"axis":null},"y":{"field":"o","type":"quantitative","scale":{"domain":[1.09183,1.12523],"nice":false,"zero":false},"axis":null},"y2":{"field":"c"},"color":{"condition":{"test":"datum.c >= datum.o","value":"#1e90d8"},"value":"#ff1a8c"}}},
   {"data":{"name":"dots"},"mark":{"type":"square","color":"#ffff00","size":8,"opacity":1},
    "encoding":{"x":{"field":"x","type":"quantitative","scale":{"domain":[0,600],"nice":false,"zero":false},"axis":null},"y":{"field":"y","type":"quantitative","scale":{"domain":[1.09183,1.12523],"nice":false,"zero":false},"axis":null}}},
   {"data":{"name":"tf"},"mark":{"type":"text","fontSize":5,"color":"#b8b8b8","align":"center","baseline":"middle"},
    "encoding":{"x":{"field":"x","type":"quantitative","scale":{"domain":[0,600],"nice":false,"zero":false},"axis":null},"y":{"datum":1.12417,"type":"quantitative","scale":{"domain":[1.09183,1.12523],"nice":false,"zero":false},"axis":null},"text":{"field":"t"}}},
   {"data":{"name":"tf"},"mark":{"type":"text","fontSize":5,"align":"center","baseline":"middle"},
    "encoding":{"x":{"field":"x","type":"quantitative","scale":{"domain":[0,600],"nice":false,"zero":false},"axis":null},"y":{"datum":1.12248,"type":"quantitative","scale":{"domain":[1.09183,1.12523],"nice":false,"zero":false},"axis":null},"text":{"field":"v"},"color":{"condition":{"test":"datum.v[0] != '-'","value":"#00b000"},"value":"#d40000"}}},
   {"data":{"name":"head"},"mark":{"type":"text","fontSize":5,"color":"#c8c8c8","align":"left","baseline":"middle"},
    "encoding":{"x":{"field":"x","type":"quantitative","scale":{"domain":[0,600],"nice":false,"zero":false},"axis":null},"y":{"field":"y","type":"quantitative","scale":{"domain":[1.09183,1.12523],"nice":false,"zero":false},"axis":null},"text":{"field":"t"}}},
   {"data":{"values":[{"x":3,"y":1.12364,"t":"1 minutes 3 seconds left to bar end"}]},"mark":{"type":"text","fontSize":4,"color":"#c8c8c8","align":"left","baseline":"middle"},
    "encoding":{"x":{"field":"x","type":"quantitative","scale":{"domain":[0,600],"nice":false,"zero":false},"axis":null},"y":{"field":"y","type":"quantitative","scale":{"domain":[1.09183,1.12523],"nice":false,"zero":false},"axis":null},"text":{"field":"t"}}},
   {"data":{"name":"boxes"},"mark":{"type":"rect","color":"#f4f4f4"},
    "encoding":{"x":{"field":"x","type":"quantitative","scale":{"domain":[0,600],"nice":false,"zero":false},"axis":null},"x2":{"field":"x2"},"y":{"datum":1.09352,"type":"quantitative","scale":{"domain":[1.09183,1.12523],"nice":false,"zero":false},"axis":null},"y2":{"datum":1.09225}}},
   {"data":{"name":"boxes"},"mark":{"type":"text","fontSize":3.6,"color":"#000000","align":"center","baseline":"middle"},
    "encoding":{"x":{"field":"xm","type":"quantitative","scale":{"domain":[0,600],"nice":false,"zero":false},"axis":null},"y":{"datum":1.09288,"type":"quantitative","scale":{"domain":[1.09183,1.12523],"nice":false,"zero":false},"axis":null},"text":{"field":"t"}}},
   {"data":{"name":"off"},"mark":{"type":"rect","color":"#dcdcdc","stroke":"#ffffff","strokeWidth":1},
    "encoding":{"x":{"field":"x","type":"quantitative","scale":{"domain":[0,600],"nice":false,"zero":false},"axis":null},"x2":{"field":"x2"},"y":{"datum":1.09479,"type":"quantitative","scale":{"domain":[1.09183,1.12523],"nice":false,"zero":false},"axis":null},"y2":{"datum":1.09225}}},
   {"data":{"name":"off"},"mark":{"type":"text","fontSize":6,"color":"#000000","align":"center","baseline":"middle"},
    "encoding":{"x":{"field":"xm","type":"quantitative","scale":{"domain":[0,600],"nice":false,"zero":false},"axis":null},"y":{"datum":1.09352,"type":"quantitative","scale":{"domain":[1.09183,1.12523],"nice":false,"zero":false},"axis":null},"text":{"field":"t"}}}
  ]},
 {"width":600,"height":49,
  "resolve":{"axis":{"x":"independent","y":"independent"}},
  "layer":[
   {"data":{"name":"hist2"},"mark":{"type":"rule","strokeWidth":3},
    "encoding":{"x":{"field":"x","type":"quantitative","scale":{"domain":[0,600],"nice":false,"zero":false},"axis":null},"y":{"field":"v","type":"quantitative","scale":{"domain":[-44.1,58.2],"nice":false,"zero":false},"axis":{"orient":"right","values":[-44.1,0,58.2],"labelExpr":"'' + datum.value","labelFlush":true,"labelOverlap":false,"title":null,"labelFontSize":5.2,"tickSize":3,"labelPadding":1}},"y2":{"datum":0},"color":{"condition":[{"test":"datum.st == 'up'","value":"#0a0aff"},{"test":"datum.st == 'dn'","value":"#00c8ff"},{"test":"datum.st == 'ns'","value":"#ff8ad8"}],"value":"#a82020"}}},
   {"data":{"values":[{}]},"mark":{"type":"rule","color":"#8a8a8a","strokeDash":[1,2],"strokeWidth":1},
    "encoding":{"y":{"datum":0,"type":"quantitative","scale":{"domain":[-44.1,58.2],"nice":false,"zero":false},"axis":null}}},
   {"data":{"name":"band2"},"mark":{"type":"area","color":"#22ff22"},
    "encoding":{"x":{"field":"x","type":"quantitative","scale":{"domain":[0,600],"nice":false,"zero":false},"axis":null},"y":{"field":"y","type":"quantitative","scale":{"domain":[-44.1,58.2],"nice":false,"zero":false},"axis":null},"y2":{"field":"y2"}}},
   {"data":{"name":"sig2"},"mark":{"type":"line","strokeWidth":3.5,"clip":true},
    "encoding":{"x":{"field":"x","type":"quantitative","scale":{"domain":[0,600],"nice":false,"zero":false},"axis":null},"y":{"field":"y","type":"quantitative","scale":{"domain":[-44.1,58.2],"nice":false,"zero":false},"axis":null},"detail":{"field":"g"},"color":{"condition":{"test":"datum.st == 'up'","value":"#22ff22"},"value":"#ff2dbe"}}},
   {"data":{"name":"wave"},"mark":{"type":"rule","strokeWidth":1.5,"clip":true},
    "encoding":{"x":{"field":"x","type":"quantitative","scale":{"domain":[0,600],"nice":false,"zero":false},"axis":null},"x2":{"field":"x2"},"y":{"field":"y","type":"quantitative","scale":{"domain":[-44.1,58.2],"nice":false,"zero":false},"axis":null},"y2":{"field":"y2"},"color":{"condition":{"test":"datum.st == 'up'","value":"#3a96f0"},"value":"#e8954a"}}},
   {"data":{"values":[{"x":3,"y":49.8,"t":"MACDcolored -2 Normalized MACD_colored(5,26)(3) 1.000000"}]},"mark":{"type":"text","fontSize":4.2,"color":"#c8c8c8","align":"left","baseline":"middle"},
    "encoding":{"x":{"field":"x","type":"quantitative","scale":{"domain":[0,600],"nice":false,"zero":false},"axis":null},"y":{"field":"y","type":"quantitative","scale":{"domain":[-44.1,58.2],"nice":false,"zero":false},"axis":null},"text":{"field":"t"}}}
  ]},
 {"width":600,"height":54,
  "resolve":{"axis":{"x":"independent","y":"independent"}},
  "layer":[
   {"data":{"name":"hist3"},"mark":{"type":"rule","strokeWidth":3},
    "encoding":{"x":{"field":"x","type":"quantitative","scale":{"domain":[0,600],"nice":false,"zero":false},"axis":null},"y":{"field":"v","type":"quantitative","scale":{"domain":[-0.01641,0.01101],"nice":false,"zero":false},"axis":{"orient":"right","values":[-0.01641,0,0.01101],"labelExpr":"replace(format(datum.value, '.5f'), '\u2212', '-')","labelFlush":true,"labelOverlap":false,"title":null,"labelFontSize":4.9,"tickSize":3,"labelPadding":1}},"y2":{"datum":0},"color":{"condition":{"test":"datum.st == 'up'","value":"#1010f0"},"value":"#ff9a6a"}}},
   {"data":{"values":[{}]},"mark":{"type":"rule","color":"#8a8a8a","strokeDash":[1,2],"strokeWidth":1},
    "encoding":{"y":{"datum":0,"type":"quantitative","scale":{"domain":[-0.01641,0.01101],"nice":false,"zero":false},"axis":null}}},
   {"data":{"name":"sig3"},"mark":{"type":"line","strokeWidth":2,"strokeDash":[2,2],"clip":true},
    "encoding":{"x":{"field":"x","type":"quantitative","scale":{"domain":[0,600],"nice":false,"zero":false},"axis":null},"y":{"field":"y","type":"quantitative","scale":{"domain":[-0.01641,0.01101],"nice":false,"zero":false},"axis":null},"detail":{"field":"g"},"color":{"condition":{"test":"datum.st == 'up'","value":"#33e6ff"},"value":"#ff1010"}}},
   {"data":{"values":[{"x":3,"y":0.0090,"t":"ColorSTUH_HISTOGRAM 0.00054 0.00584 KDPO_Candle(21, 17, 73, 1MW)"}]},"mark":{"type":"text","fontSize":4.4,"color":"#c8c8c8","align":"left","baseline":"middle"},
    "encoding":{"x":{"field":"x","type":"quantitative","scale":{"domain":[0,600],"nice":false,"zero":false},"axis":null},"y":{"field":"y","type":"quantitative","scale":{"domain":[-0.01641,0.01101],"nice":false,"zero":false},"axis":null},"text":{"field":"t"}}}
  ]},
 {"width":600,"height":31,
  "resolve":{"axis":{"x":"independent","y":"independent"}},
  "layer":[
   {"data":{"name":"nm"},"mark":{"type":"line","strokeWidth":2.5},
    "encoding":{"x":{"field":"x","type":"quantitative","scale":{"domain":[0,600],"nice":false,"zero":false},"axis":{"orient":"bottom","values":[0,30,59,89,118,148,177,206,236,265,295,324,353,383,412,442,471],"labelExpr":"['7 Aug 2015','10 Aug 16:00','12 Aug 00:00','13 Aug 08:00','14 Aug 16:00','18 Aug 00:00','19 Aug 08:00','20 Aug 16:00','24 Aug 00:00','25 Aug 08:00','26 Aug 16:00','28 Aug 00:00','31 Aug 08:00','1 Sep 16:00','3 Sep 00:00','4 Sep 08:00','7 Sep 16:00'][indexof([0,30,59,89,118,148,177,206,236,265,295,324,353,383,412,442,471], datum.value)]","labelAlign":"left","labelBaseline":"top","labelPadding":0,"tickSize":2,"labelFontSize":4.3,"labelFlush":false,"labelBound":false,"labelOverlap":false,"title":null}},
     "y":{"field":"y","type":"quantitative","scale":{"domain":[0,109.3815],"nice":false,"zero":false},"axis":{"orient":"right","values":[0,109.3815],"labelExpr":"format(datum.value, '.4f')","labelFlush":true,"labelOverlap":false,"title":null,"labelFontSize":4.6,"tickSize":3,"labelPadding":1}},
     "detail":{"field":"g"},"color":{"condition":[{"test":"datum.st == 'up'","value":"#22ff00"},{"test":"datum.st == 'mid'","value":"#b07a10"}],"value":"#ff0000"}}},
   {"data":{"values":[{"x":2,"y":98.8}]},"mark":{"type":"square","color":"#ff0000","size":5,"opacity":1},
    "encoding":{"x":{"field":"x","type":"quantitative","scale":{"domain":[0,600],"nice":false,"zero":false},"axis":null},"y":{"field":"y","type":"quantitative","scale":{"domain":[0,109.3815],"nice":false,"zero":false},"axis":null}}},
   {"data":{"values":[{"x":5,"y":98.8,"t":"Normalized MACD (12,26) 98.393893"}]},"mark":{"type":"text","fontSize":4.5,"color":"#c8c8c8","align":"left","baseline":"middle"},
    "encoding":{"x":{"field":"x","type":"quantitative","scale":{"domain":[0,600],"nice":false,"zero":false},"axis":null},"y":{"field":"y","type":"quantitative","scale":{"domain":[0,109.3815],"nice":false,"zero":false},"axis":null},"text":{"field":"t"}}}
  ]}
]
}
